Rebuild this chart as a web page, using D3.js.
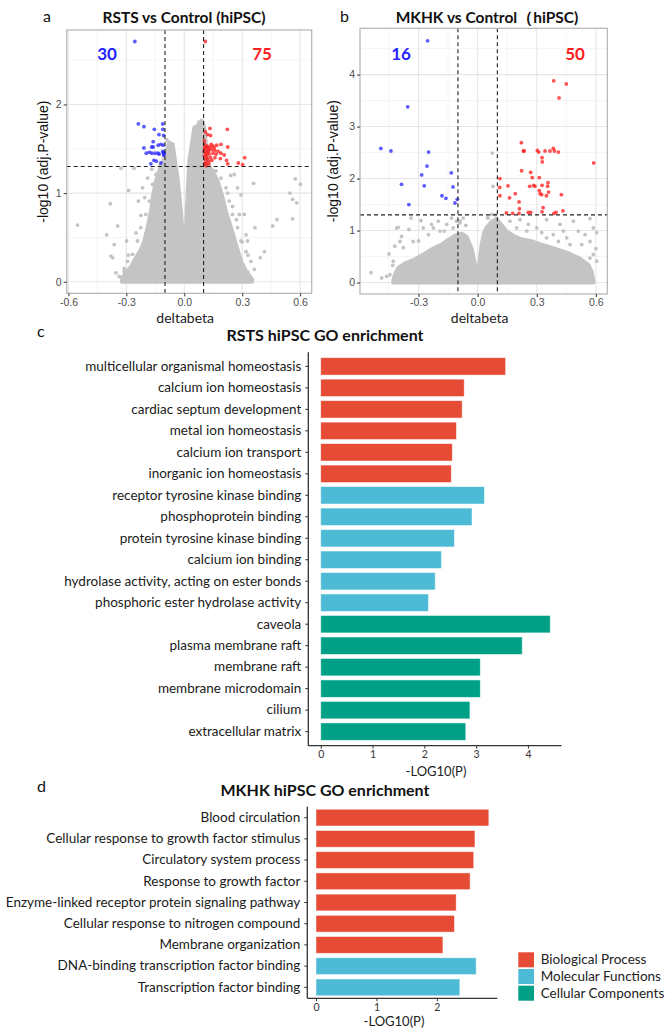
<!DOCTYPE html>
<html>
<head>
<meta charset="utf-8">
<script src="https://cdn.jsdelivr.net/npm/d3@7"></script>
<style>
  body { margin: 0; background: #fff; }
  svg { display: block; }
  .lab { font-family: Lato, "Open Sans", sans-serif; }
  .arial { font-family: "Liberation Sans", Arial, sans-serif; }
</style>
</head>
<body>
<div id="fig"></div>
<script>
// ---- volcano a: RSTS vs Control ----
// [deltabeta, -log10(adj.P)]
var rstsBlue = [[-0.256,2.71],[-0.238,1.78],[-0.209,1.75],[-0.155,1.72],[-0.112,1.78],[-0.111,1.72],
  [-0.131,1.66],[-0.107,1.65],[-0.161,1.58],[-0.135,1.54],[-0.121,1.55],[-0.109,1.54],[-0.209,1.51],
  [-0.169,1.52],[-0.161,1.52],[-0.197,1.45],[-0.181,1.46],[-0.168,1.45],[-0.152,1.45],[-0.136,1.45],
  [-0.111,1.47],[-0.105,1.45],[-0.157,1.37],[-0.145,1.36],[-0.173,1.33],[-0.121,1.34],[-0.13,1.44],
  [-0.107,1.43],[-0.109,1.46],[-0.106,1.44]];
var rstsRed = [[0.109,2.71],[0.133,1.73],[0.223,1.72],[0.109,1.69],[0.121,1.66],[0.136,1.65],[0.104,1.59],
  [0.105,1.55],[0.119,1.53],[0.133,1.52],[0.149,1.53],[0.168,1.54],[0.19,1.55],[0.225,1.52],[0.109,1.49],
  [0.126,1.48],[0.142,1.49],[0.159,1.48],[0.112,1.45],[0.13,1.44],[0.149,1.45],[0.176,1.47],[0.19,1.45],
  [0.207,1.43],[0.116,1.42],[0.136,1.40],[0.159,1.40],[0.187,1.39],[0.313,1.40],[0.109,1.38],[0.126,1.36],
  [0.143,1.37],[0.219,1.37],[0.112,1.34],[0.128,1.33],[0.225,1.33],[0.28,1.34],[0.302,1.32],[0.105,1.51],
  [0.114,1.52],[0.122,1.46],[0.104,1.42],[0.118,1.39],[0.105,1.33],[0.14,1.55],[0.155,1.51],[0.102,1.47],
  [0.127,1.50],[0.165,1.44],[0.113,1.31]];
var rstsGrey = [[-0.553,0.64],[-0.383,0.88],[-0.345,0.63],[-0.402,0.53],[-0.363,0.42],[-0.38,0.29],
  [-0.299,0.46],[-0.288,1.03],[-0.238,0.91],[-0.216,1.06],[-0.19,1.17],[-0.168,1.27],[-0.328,1.28],
  [-0.26,1.28],[-0.33,0.05],[-0.312,0.12],[-0.29,0.3],[-0.25,0.55],[-0.225,0.75],[-0.205,0.95],
  [-0.09,1.6],[-0.08,1.55],[0.075,1.8],[0.09,1.82],
  [-0.294,0.23],[-0.268,0.31],[-0.242,0.46],[-0.225,0.61],[-0.199,0.76],[-0.181,0.91],[-0.164,1.10],
  [-0.147,1.21],[-0.124,1.32],[-0.095,1.40],[-0.078,1.47],[-0.069,1.53],[-0.337,0.06],[-0.354,0.1],
  [-0.371,0.27],[-0.311,0.15],
  [0.164,1.25],[0.19,1.17],[0.216,1.06],[0.233,0.91],[0.25,0.76],[0.276,0.61],[0.294,0.46],[0.32,0.34],
  [0.345,0.23],[0.363,0.14],[0.285,0.76],[0.328,0.46],
  [0.575,1.16],[0.601,1.10],[0.547,1.0],[0.561,0.93],[0.582,0.89],[0.48,0.70],[0.561,0.71],[0.458,0.63],
  [0.366,0.61],[0.415,0.34],[0.394,0.27],[0.32,0.53],[0.311,0.76],[0.276,1.06],[0.294,0.98],[0.359,1.11],
  [0.328,0.11],[0.259,1.21],[0.24,1.2],[0.33,0.3],[0.3,0.45],[0.27,0.7],[0.25,0.85],[0.225,1.0]];
// upper edge of the dense grey cloud
var rstsCloud = [[-0.323,0.015],[-0.311,0.08],[-0.276,0.17],[-0.25,0.27],[-0.225,0.36],[-0.207,0.46],
  [-0.19,0.61],[-0.173,0.79],[-0.161,0.98],[-0.147,1.13],[-0.13,1.25],[-0.109,1.36],[-0.092,1.47],
  [-0.078,1.57],[-0.06,1.55],[-0.035,1.17],[-0.017,0.79],[-0.005,0.42],[0.0,0.08],
  [0.005,0.23],[0.009,0.61],[0.017,0.98],[0.026,1.36],[0.052,1.74],[0.078,1.77],[0.092,1.81],[0.104,1.74],
  [0.121,1.32],[0.147,1.25],[0.173,1.13],[0.195,0.98],[0.216,0.79],[0.242,0.61],[0.268,0.42],
  [0.294,0.23],[0.32,0.12],[0.351,0.03]];

// ---- volcano b: MKHK vs Control ----
var mkhkBlue = [[-0.254,4.65],[-0.355,3.38],[-0.491,2.58],[-0.44,2.53],[-0.249,2.51],[-0.257,2.24],
  [-0.284,2.07],[-0.134,2.11],[-0.386,1.89],[-0.271,1.86],[-0.125,1.84],[-0.181,1.67],[-0.161,1.62],
  [-0.103,1.60],[-0.115,1.53],[-0.349,1.50]];
var mkhkRed = [[0.386,3.88],[0.45,3.82],[0.413,3.55],[0.222,2.69],[0.232,2.53],[0.236,2.53],[0.303,2.54],
  [0.31,2.51],[0.342,2.53],[0.367,2.53],[0.384,2.58],[0.39,2.53],[0.41,2.51],[0.327,2.40],[0.328,2.32],
  [0.589,2.30],[0.223,2.15],[0.269,2.12],[0.277,2.02],[0.313,2.02],[0.113,2.0],[0.357,1.92],[0.355,1.85],
  [0.264,1.85],[0.284,1.87],[0.291,1.85],[0.327,1.87],[0.154,1.86],[0.112,1.83],[0.313,1.77],[0.317,1.71],
  [0.325,1.69],[0.36,1.74],[0.425,1.69],[0.191,1.71],[0.349,1.67],[0.113,1.67],[0.162,1.63],[0.21,1.55],
  [0.212,1.42],[0.332,1.44],[0.146,1.34],[0.178,1.33],[0.21,1.33],[0.257,1.35],[0.269,1.35],[0.327,1.36],
  [0.387,1.33],[0.398,1.35],[0.433,1.38]];
var mkhkGrey = [[0.074,2.49],[0.078,1.85],[-0.403,1.06],[-0.349,1.02],[-0.288,1.19],[-0.2,1.18],
  [-0.169,0.99],[-0.132,1.24],[-0.107,1.18],[-0.386,0.89],[-0.431,0.33],[-0.541,0.19],[-0.462,0.12],
  [-0.338,1.24],[-0.25,0.92],[-0.225,1.05],[-0.06,1.1],[-0.09,1.15],[0.05,1.25],[0.09,1.3],
  [0.198,1.05],[0.257,1.12],[0.3,1.05],[0.35,1.21],[0.418,1.12],[0.486,1.18],[0.57,1.23],[0.604,0.96],
  [0.57,0.79],[0.511,0.99],[0.452,0.86],[0.384,0.92],[0.164,1.18],[0.215,1.21],[0.325,0.96],[0.528,0.73],
  [0.587,0.54],[0.41,0.79],[-0.45,0.55],[-0.42,0.7],[-0.3,0.8],[0.6,0.65],
  [-0.411,1.05],[-0.394,0.79],[-0.377,0.67],[-0.327,0.79],[-0.276,1.05],[-0.234,1.12],[-0.191,0.99],
  [-0.157,1.12],[-0.124,1.05],[-0.09,1.18],[-0.073,1.24],[0.054,1.24],[0.071,1.31],[0.13,1.05],
  [0.164,0.92],[0.249,0.99],[0.283,0.79],[0.35,0.86],[0.435,0.99],[0.469,0.73],[0.545,0.92],[0.587,1.05],
  [0.57,0.47],[0.604,0.41],[-0.428,0.41],[-0.445,0.15],[-0.487,0.09],[-0.301,0.41],[-0.174,0.73],
  [0.198,0.73],[0.418,0.54],[0.503,0.41]];
var mkhkCloud = [[-0.428,0.03],[-0.42,0.15],[-0.403,0.28],[-0.369,0.37],[-0.327,0.43],[-0.284,0.52],
  [-0.25,0.6],[-0.217,0.67],[-0.183,0.73],[-0.149,0.82],[-0.115,0.9],[-0.081,0.94],[-0.056,0.88],
  [-0.03,0.65],[-0.014,0.35],[-0.002,0.06],[0.008,0.35],[0.02,0.72],[0.032,0.95],[0.046,1.06],
  [0.071,1.17],[0.096,1.22],[0.122,1.1],[0.147,0.98],[0.181,0.9],[0.215,0.84],[0.266,0.8],[0.316,0.74],
  [0.367,0.68],[0.418,0.62],[0.469,0.55],[0.519,0.46],[0.562,0.34],[0.579,0.2],[0.587,0.03]];

// ---- GO enrichment c: RSTS ----
var rstsTerms = ["multicellular organismal homeostasis","calcium ion homeostasis","cardiac septum development",
  "metal ion homeostasis","calcium ion transport","inorganic ion homeostasis","receptor tyrosine kinase binding",
  "phosphoprotein binding","protein tyrosine kinase binding","calcium ion binding",
  "hydrolase activity, acting on ester bonds","phosphoric ester hydrolase activity","caveola",
  "plasma membrane raft","membrane raft","membrane microdomain","cilium","extracellular matrix"];
var rstsLogP = [3.57,2.77,2.73,2.62,2.54,2.52,3.16,2.92,2.58,2.33,2.21,2.08,4.43,3.89,3.08,3.08,2.88,2.80];
var rstsGroup = ["BP","BP","BP","BP","BP","BP","MF","MF","MF","MF","MF","MF","CC","CC","CC","CC","CC","CC"];

// ---- GO enrichment d: MKHK ----
var mkhkTerms = ["Blood circulation","Cellular response to growth factor stimulus","Circulatory system process",
  "Response to growth factor","Enzyme-linked receptor protein signaling pathway",
  "Cellular response to nitrogen compound","Membrane organization",
  "DNA-binding transcription factor binding","Transcription factor binding"];
var mkhkLogP = [2.86,2.63,2.61,2.55,2.32,2.29,2.10,2.65,2.38];
var mkhkGroup = ["BP","BP","BP","BP","BP","BP","BP","MF","MF"];

var groupKeys = ["BP","MF","CC"];
var groupNames = ["Biological Process","Molecular Functions","Cellular Components"];
var groupColors = ["#E64B35","#4DBBD5","#00A087"];

var W = 665, H = 1030;
var svg = d3.select("#fig").append("svg").attr("width", W).attr("height", H);
var color = d3.scaleOrdinal().domain(groupKeys).range(groupColors);

function fmt(v) { return d3.format(".1f")(v).replace("\u2212", "-"); }

function volcano(o) {
  var x = d3.scaleLinear().domain(o.xd).range([o.left, o.right]);
  var y = d3.scaleLinear().domain(o.yd).range([o.bottom, o.top]);
  var g = svg.append("g");

  // grid
  g.selectAll(".vmin").data(o.xminor).enter().append("line")
    .attr("x1", d => x(d)).attr("x2", d => x(d)).attr("y1", o.top).attr("y2", o.bottom)
    .attr("stroke", "#f3f3f3").attr("stroke-width", 0.8);
  g.selectAll(".hmin").data(o.yminor).enter().append("line")
    .attr("y1", d => y(d)).attr("y2", d => y(d)).attr("x1", o.left).attr("x2", o.right)
    .attr("stroke", "#f3f3f3").attr("stroke-width", 0.8);
  g.selectAll(".vmaj").data(o.xticks).enter().append("line")
    .attr("x1", d => x(d)).attr("x2", d => x(d)).attr("y1", o.top).attr("y2", o.bottom)
    .attr("stroke", "#e6e6e6").attr("stroke-width", 1.1);
  g.selectAll(".hmaj").data(o.yticks).enter().append("line")
    .attr("y1", d => y(d)).attr("y2", d => y(d)).attr("x1", o.left).attr("x2", o.right)
    .attr("stroke", "#e6e6e6").attr("stroke-width", 1.1);

  // dense grey cloud
  var area = d3.area().x(d => x(d[0])).y0(y(0)).y1(d => y(d[1]));
  g.append("path").datum(o.cloud).attr("d", area)
    .attr("fill", "#c4c4c4").attr("stroke", "#c4c4c4").attr("stroke-width", 4)
    .attr("stroke-linejoin", "round");
  g.selectAll(".gp").data(o.grey).enter().append("circle")
    .attr("cx", d => x(d[0])).attr("cy", d => y(d[1])).attr("r", 1.9).attr("fill", "#c4c4c4");

  g.selectAll(".bp").data(o.blue).enter().append("circle")
    .attr("cx", d => x(d[0])).attr("cy", d => y(d[1])).attr("r", 1.9)
    .attr("fill", "#2424ff").attr("fill-opacity", 0.75);
  g.selectAll(".rp").data(o.red).enter().append("circle")
    .attr("cx", d => x(d[0])).attr("cy", d => y(d[1])).attr("r", 1.9)
    .attr("fill", "#ff1a1a").attr("fill-opacity", 0.75);

  // thresholds
  [-0.1, 0.1].forEach(function (v) {
    g.append("line").attr("x1", x(v)).attr("x2", x(v)).attr("y1", o.top).attr("y2", o.bottom)
      .attr("stroke", "#222").attr("stroke-dasharray", "4,3").attr("stroke-width", 1.1);
  });
  g.append("line").attr("x1", o.left).attr("x2", o.right).attr("y1", y(-Math.log10(0.05))).attr("y2", y(-Math.log10(0.05)))
    .attr("stroke", "#222").attr("stroke-dasharray", "4,3").attr("stroke-width", 1.1);

  g.append("rect").attr("x", o.left).attr("y", o.top).attr("width", o.right - o.left)
    .attr("height", o.bottom - o.top).attr("fill", "none").attr("stroke", "#b3b3b3").attr("stroke-width", 1.2);

  // axes
  var xa = g.append("g").attr("transform", "translate(0," + o.bottom + ")")
    .call(d3.axisBottom(x).tickValues(o.xticks).tickFormat(fmt).tickSize(3).tickPadding(2));
  var ya = g.append("g").attr("transform", "translate(" + o.left + ",0)")
    .call(d3.axisLeft(y).tickValues(o.yticks).tickFormat(d3.format("d")).tickSize(3).tickPadding(2));
  [xa, ya].forEach(function (a) {
    a.select(".domain").remove();
    a.selectAll("line").attr("stroke", "#333");
    a.selectAll("text").attr("class", "arial").attr("fill", "#4d4d4d").attr("font-size", 10.5);
  });

  // labels
  g.append("text").attr("class", "lab").attr("x", (o.left + o.right) / 2 - 4).attr("y", 323)
    .attr("text-anchor", "middle").attr("font-size", 14).attr("fill", "#222").text("deltabeta");
  g.append("text").attr("class", "arial")
    .attr("transform", "translate(" + o.ylabX + "," + ((o.top + o.bottom) / 2) + ") rotate(-90)")
    .attr("text-anchor", "middle").attr("font-size", 14).attr("fill", "#111").text("-log10 (adj.P-value)");
  g.append("text").attr("class", "lab").attr("x", o.titleX).attr("y", 23).attr("text-anchor", "middle")
    .attr("font-size", 15.5).attr("font-weight", "bold").attr("fill", "#111").text(o.title);
  g.append("text").attr("class", "lab").attr("x", o.letterX).attr("y", 22).attr("font-size", 16)
    .attr("fill", "#111").text(o.letter);
  g.append("text").attr("class", "lab").attr("x", o.nDownX).attr("y", 60).attr("text-anchor", "middle")
    .attr("font-size", 17).attr("font-weight", "bold").attr("fill", "#2424ff").text(o.nDown);
  g.append("text").attr("class", "lab").attr("x", o.nUpX).attr("y", 60).attr("text-anchor", "middle")
    .attr("font-size", 17).attr("font-weight", "bold").attr("fill", "#ff2020").text(o.nUp);
}

volcano({
  left: 66.7, right: 311.7, top: 30, bottom: 293.3,
  xd: [-0.609, 0.66], yd: [-0.13, 2.84],
  xticks: [-0.6, -0.3, 0, 0.3, 0.6], xminor: [-0.45, -0.15, 0.15, 0.45],
  yticks: [0, 1, 2], yminor: [0.5, 1.5, 2.5],
  cloud: rstsCloud, grey: rstsGrey, blue: rstsBlue, red: rstsRed,
  title: "RSTS vs Control (hiPSC)", titleX: 184, letter: "a", letterX: 43, ylabX: 48,
  nDown: "30", nDownX: 107, nUp: "75", nUpX: 262
});
volcano({
  left: 360, right: 607.3, top: 28.3, bottom: 294,
  xd: [-0.597, 0.658], yd: [-0.22, 4.89],
  xticks: [-0.3, 0, 0.3, 0.6], xminor: [-0.45, -0.15, 0.15, 0.45],
  yticks: [0, 1, 2, 3, 4], yminor: [0.5, 1.5, 2.5, 3.5, 4.5],
  cloud: mkhkCloud, grey: mkhkGrey, blue: mkhkBlue, red: mkhkRed,
  title: "MKHK vs Control\uFF08hiPSC)", titleX: 487, letter: "b", letterX: 340, ylabX: 338,
  nDown: "16", nDownX: 401, nUp: "50", nUpX: 575
});

function goChart(o) {
  var x = d3.scaleLinear().domain(o.xd).range([o.left, o.right]);
  var y = d3.scaleBand().domain(o.terms).range([o.top, o.bottom]).paddingInner(o.pi).paddingOuter(o.po);
  var g = svg.append("g");
  var rows = o.terms.map(function (t, i) { return { term: t, v: o.values[i], grp: o.groups[i] }; });

  g.selectAll(".bar").data(rows).enter().append("rect")
    .attr("x", x(0)).attr("y", d => y(d.term)).attr("width", d => x(d.v) - x(0))
    .attr("height", y.bandwidth()).attr("fill", d => color(d.grp))
    .attr("stroke", "#fff").attr("stroke-opacity", 0.6).attr("stroke-width", 0.8);

  var xa = g.append("g").attr("transform", "translate(0," + o.bottom + ")")
    .call(d3.axisBottom(x).tickValues(o.xticks).tickFormat(d3.format("d")).tickSize(3).tickPadding(2));
  var ya = g.append("g").attr("transform", "translate(" + o.left + ",0)")
    .call(d3.axisLeft(y).tickSize(3).tickPadding(4));
  [xa, ya].forEach(function (a) {
    a.select(".domain").attr("stroke", "#333").attr("stroke-width", 1.3);
    a.selectAll(".tick line").attr("stroke", "#333");
  });
  xa.select(".domain").attr("d", "M" + o.left + ",0H" + o.right);
  ya.select(".domain").attr("d", "M0," + o.top + "V" + o.bottom);
  xa.selectAll("text").attr("class", "lab").attr("fill", "#333").attr("font-size", 10.5);
  ya.selectAll("text").attr("class", "lab").attr("fill", "#1a1a1a").attr("font-size", o.labSize);

  g.append("text").attr("class", "lab").attr("x", o.titleX).attr("y", o.titleY).attr("text-anchor", "middle")
    .attr("font-size", 16).attr("font-weight", "bold").attr("fill", "#111").text(o.title);
  g.append("text").attr("class", "lab").attr("x", 37).attr("y", o.titleY - 4).attr("font-size", 16)
    .attr("fill", "#111").text(o.letter);
  g.append("text").attr("class", "lab").attr("x", o.xlabX).attr("y", o.xlabY).attr("text-anchor", "middle")
    .attr("font-size", 13).attr("fill", "#222").text("-LOG10(P)");
}

goChart({
  terms: rstsTerms, values: rstsLogP, groups: rstsGroup,
  left: 308.3, right: 561.6, top: 352.3, bottom: 745.7, xd: [-0.24, 4.65], xticks: [0, 1, 2, 3, 4],
  pi: 0.19, po: 0.25, labSize: 13.5,
  title: "RSTS hiPSC GO enrichment", titleX: 325, titleY: 341, letter: "c", xlabX: 436, xlabY: 776
});
goChart({
  terms: mkhkTerms, values: mkhkLogP, groups: mkhkGroup,
  left: 307.3, right: 497.3, top: 806.7, bottom: 998.3, xd: [-0.144, 3.0], xticks: [0, 1, 2],
  pi: 0.21, po: 0.12, labSize: 13.5,
  title: "MKHK hiPSC GO enrichment", titleX: 325, titleY: 796, letter: "d", xlabX: 394, xlabY: 1026
});

// legend
var leg = svg.append("g").attr("transform", "translate(518.3,952.3)");
leg.selectAll("rect").data(groupKeys).enter().append("rect")
  .attr("x", 0).attr("y", (d, i) => i * 16.7).attr("width", 15.7).attr("height", 15)
  .attr("fill", d => color(d));
leg.selectAll("text").data(groupNames).enter().append("text").attr("class", "lab")
  .attr("x", 22.4).attr("y", (d, i) => i * 16.7 + 12).attr("font-size", 13.5).attr("fill", "#222")
  .text(d => d);
</script>
</body>
</html>
